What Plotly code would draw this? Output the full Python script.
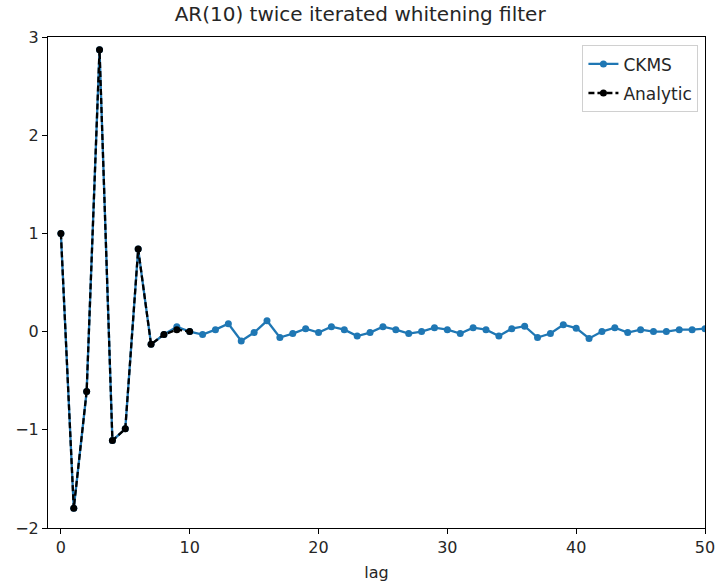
import plotly.graph_objects as go

lag_ckms = list(range(0, 51))
ckms = [1.0, -1.80, -0.61, 2.87, -1.11, -0.99, 0.84, -0.13, -0.03, 0.05, 0.0,
        -0.03, 0.02, 0.08, -0.095, -0.01, 0.11, -0.06, -0.02, 0.03,
        -0.01, 0.05, 0.02, -0.045, -0.01, 0.05, 0.02, -0.02, 0.0, 0.04,
        0.02, -0.02, 0.04, 0.02, -0.045, 0.03, 0.055, -0.06, -0.02, 0.07,
        0.035, -0.07, 0.0, 0.04, -0.01, 0.02, 0.0, 0.0, 0.02, 0.02, 0.03]

lag_analytic = list(range(0, 11))
analytic = [1.0, -1.80, -0.61, 2.87, -1.11, -0.99, 0.84, -0.13, -0.03, 0.02, 0.0]

x_ticks = [0, 10, 20, 30, 40, 50]
y_ticks = [-2, -1, 0, 1, 2, 3]

fig = go.Figure()
fig.add_trace(go.Scatter(
    x=lag_ckms, y=ckms, mode="lines+markers", name="CKMS", legendgroup="a",
    line=dict(color="#1f77b4", width=2.3),
    marker=dict(color="#1f77b4", size=7),
))
fig.add_trace(go.Scatter(
    x=lag_analytic, y=analytic, mode="lines+markers", name="Analytic", legendgroup="b",
    line=dict(color="black", width=2.3, dash="6px,3px"),
    marker=dict(color="black", size=7),
))

font = "DejaVu Sans"
fig.update_layout(
    width=716, height=582,
    margin=dict(l=48, r=11, t=37, b=54, autoexpand=False),
    paper_bgcolor="white", plot_bgcolor="white",
    font=dict(family=font, size=16, color="#262626"),
    title=dict(text="AR(10) twice iterated whitening filter", x=0.503, xanchor="center",
               y=1 - 14 / 582, yanchor="middle", font=dict(size=20, family=font, color="#262626")),
    showlegend=True,
    legend=dict(x=0.99, y=0.983, xanchor="right", yanchor="top",
                bordercolor="#d0d0d0", borderwidth=1, bgcolor="rgba(255,255,255,0.8)",
                font=dict(size=17, family=font), tracegroupgap=4),
    xaxis=dict(range=[-1, 50], tickvals=x_ticks, ticks="outside", ticklen=5,
               tickcolor="black", showline=True, linecolor="black", linewidth=1,
               mirror=True, showgrid=False, zeroline=False, automargin=False,
               title=dict(text="lag", font=dict(size=16), standoff=10)),
    yaxis=dict(range=[-2, 3], tickvals=y_ticks, ticks="outside", ticklen=5,
               tickcolor="black", showline=True, linecolor="black", linewidth=1,
               mirror=True, showgrid=False, zeroline=False, automargin=False),
)

fig.write_html("out.html", config={"displayModeBar": False},
               post_script="document.body.style.margin='0';")
